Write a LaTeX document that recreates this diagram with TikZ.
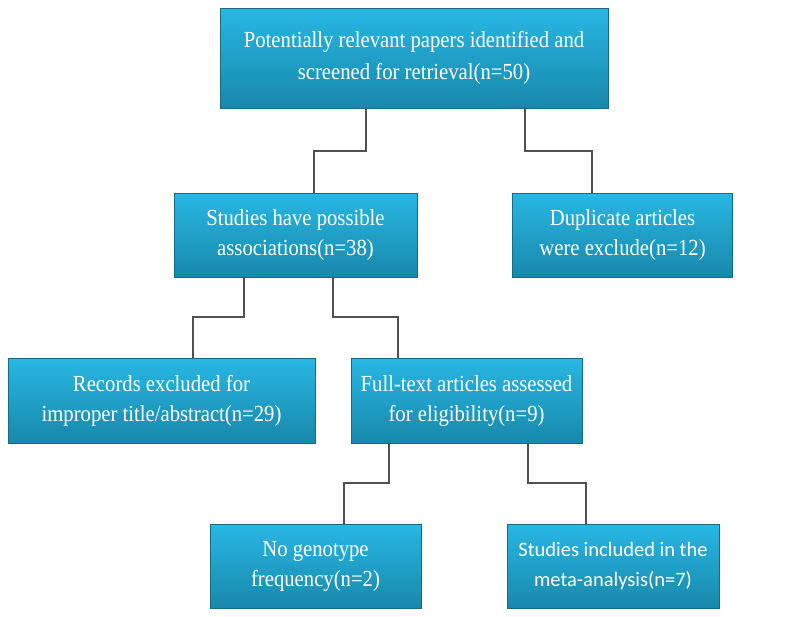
\documentclass[tikz,border=0pt]{standalone}
\usepackage{fontspec}
\setmainfont{Liberation Serif}[FakeStretch=0.9]
\newfontfamily\calibrifont{Carlito}
\usetikzlibrary{calc}

\definecolor{boxtop}{RGB}{40,183,228}
\definecolor{boxbot}{RGB}{24,136,170}
\definecolor{linkgray}{RGB}{80,80,80}

\tikzset{
  flowbox/.style={draw=boxbot!80!black, line width=0.6pt, top color=boxtop, bottom color=boxbot,
    text=white, align=center, inner sep=0pt, font=\fontsize{23}{30}\selectfont},
  link/.style={draw=linkgray, line width=1.4pt},
}

\begin{document}
\begin{tikzpicture}[x=1pt, y=-1pt]
  \useasboundingbox (0,0) rectangle (800,616);
  % boxes
  \node[flowbox, minimum width=388pt, minimum height=100pt, font=\fontsize{23}{32}\selectfont] (ident) at (414,58)
    {Potentially relevant papers identified and\\screened for retrieval(n=50)};
  \node[flowbox, minimum width=243pt, minimum height=84pt] (poss) at (295.5,235)
    {Studies have possible\\associations(n=38)};
  \node[flowbox, minimum width=220pt, minimum height=84pt] (dupl) at (622.5,235)
    {Duplicate articles\\were exclude(n=12)};
  \node[flowbox, minimum width=307pt, minimum height=85pt] (recs) at (161.5,400.5)
    {Records excluded for\\improper title/abstract(n=29)};
  \node[flowbox, minimum width=231pt, minimum height=85pt] (full) at (466.5,400.5)
    {Full-text articles assessed\\for eligibility(n=9)};
  \node[flowbox, minimum width=211pt, minimum height=84pt] (nogeno) at (315.5,566)
    {No genotype\\frequency(n=2)};
  \node[flowbox, minimum width=212pt, minimum height=84pt,
    font=\calibrifont\fontsize{20.5}{30}\selectfont] (incl) at (613,566)
    {Studies included in the\\meta-analysis(n=7)};
  % connectors
  \draw[link] (ident.south -| 366,0) |- (314,151) -- (poss.north -| 314,0);
  \draw[link] (ident.south -| 525,0) |- (592,151) -- (dupl.north -| 592,0);
  \draw[link] (poss.south -| 244,0) |- (193,317) -- (recs.north -| 193,0);
  \draw[link] (poss.south -| 333,0) |- (398,317) -- (full.north -| 398,0);
  \draw[link] (full.south -| 389,0) |- (344,483) -- (nogeno.north -| 344,0);
  \draw[link] (full.south -| 528,0) |- (586,483) -- (incl.north -| 586,0);
\end{tikzpicture}
\end{document}
